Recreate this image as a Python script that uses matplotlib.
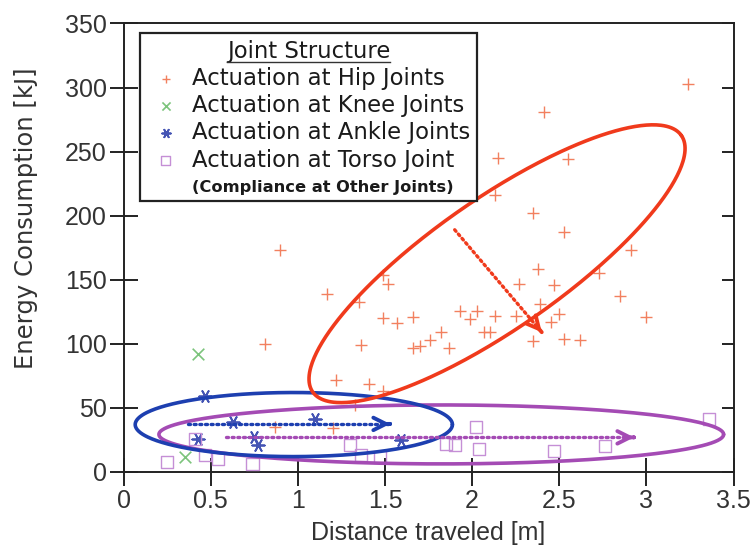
import numpy as np
import matplotlib
matplotlib.use("Agg")
import matplotlib.pyplot as plt
from matplotlib.lines import Line2D

# ---------------- data ----------------
hip_x = [3.24, 2.41, 2.15, 2.55, 2.13, 2.35, 2.53, 2.91, 0.90, 2.38, 2.73, 1.49, 2.27, 2.47,
         1.52, 2.85, 1.17, 1.35, 2.39, 2.03, 1.93, 2.13, 2.25, 2.50, 3.00, 1.66, 1.49, 1.57,
         1.99, 2.45, 1.82, 2.07, 2.10, 1.36, 1.66, 1.70, 1.76, 1.87, 2.35, 2.53, 2.62, 0.81,
         1.22, 1.41, 1.49, 1.33, 0.87, 1.20]
hip_y = [303, 281, 245, 244, 216, 202, 187, 173, 173, 158, 155, 154, 147, 146,
         147, 137, 139, 133, 131, 126, 126, 122, 122, 123, 121, 121, 120, 116,
         119, 117, 109, 109, 109, 99, 97, 98, 103, 97, 102, 104, 103, 100,
         72, 69, 63, 52, 35, 34]

knee_x = [0.43, 0.35]
knee_y = [92, 12]

ankle_x = [0.47, 0.63, 0.43, 0.75, 0.77, 1.10, 1.59]
ankle_y = [59, 39, 26, 27, 21, 41, 25]

torso_x = [0.25, 0.47, 0.54, 0.41, 0.74, 1.30, 1.36, 1.47, 1.85, 1.90, 2.02, 2.04, 2.47, 2.76, 3.36]
torso_y = [8, 13, 10, 26, 6, 21, 13, 12, 22, 21, 35, 18, 16, 20, 41]

labels = ["Actuation at Hip Joints", "Actuation at Knee Joints",
          "Actuation at Ankle Joints", "Actuation at Torso Joint",
          "(Compliance at Other Joints)"]
legend_title = "Joint Structure"

# ellipses: center, semi-axis vectors (data units)
red_ell = dict(c=(2.143, 162.5), u=(1.058, 100.0), v=(0.211, -41.8))
blue_ell = dict(c=(0.977, 37.0), u=(0.91, 0.0), v=(0.0, 25.0))
purple_ell = dict(c=(1.823, 29.3), u=(1.62, 0.0), v=(0.0, 23.0))

# dotted arrows: start, end
red_arrow = ((1.90, 189), (2.40, 109))
blue_arrow = ((0.37, 37.5), (1.53, 37.5))
purple_arrow = ((0.59, 27.0), (2.93, 27.0))

xticks = [0, 0.5, 1, 1.5, 2, 2.5, 3, 3.5]
xticklabels = ["0", "0.5", "1", "1.5", "2", "2.5", "3", "3.5"]
yticks = [0, 50, 100, 150, 200, 250, 300, 350]

# ---------------- style ----------------
c_hip = "#f2805f"
c_knee = "#7cc47c"
c_ankle = "#4454b4"
c_torso = "#c58fd6"
c_red = "#f03a1c"
c_blue = "#1d3fb0"
c_purple = "#a44bb4"

fig = plt.figure(figsize=(7.56, 5.49), dpi=100)
ax = fig.add_axes([0.1634, 0.1403, 0.8069, 0.817])

ax.set_xlim(0, 3.5)
ax.set_ylim(0, 350)

h1 = ax.scatter(hip_x, hip_y, marker="+", s=80, linewidths=1.0, color=c_hip, zorder=3)
h2 = ax.scatter(knee_x, knee_y, marker="x", s=70, linewidths=1.2, color=c_knee, zorder=3)
h3 = ax.scatter(ankle_x, ankle_y, marker=(6, 2, 90), s=80, linewidths=1.3, color=c_ankle, zorder=3)
h4 = ax.scatter(torso_x, torso_y, marker="s", s=75, facecolors="none", edgecolors=c_torso,
                linewidths=1.0, zorder=3)


def draw_ellipse(e, color, lw):
    t = np.linspace(0, 2 * np.pi, 400)
    cx, cy = e["c"]
    ux, uy = e["u"]
    vx, vy = e["v"]
    xs = cx + ux * np.cos(t) + vx * np.sin(t)
    ys = cy + uy * np.cos(t) + vy * np.sin(t)
    ax.plot(xs, ys, color=color, lw=lw, zorder=4, solid_capstyle="round")


def draw_arrow(a, color):
    (x0, y0), (x1, y1) = a
    ax.plot([x0, x1], [y0, y1], color=color, lw=2.4, linestyle=(0, (0.6, 1.1)),
            dash_capstyle="round", zorder=5)
    dx, dy = x1 - x0, y1 - y0
    ax.annotate("", xy=(x1, y1), xytext=(x1 - dx * 0.001, y1 - dy * 0.001),
                arrowprops=dict(arrowstyle="->,head_length=0.9,head_width=0.45",
                                color=color, lw=2.8, shrinkA=0, shrinkB=0), zorder=5)


draw_ellipse(purple_ell, c_purple, 2.6)
draw_ellipse(blue_ell, c_blue, 2.6)
draw_ellipse(red_ell, c_red, 2.6)
draw_arrow(red_arrow, c_red)
draw_arrow(blue_arrow, c_blue)
draw_arrow(purple_arrow, c_purple)

ax.set_xticks(xticks)
ax.set_xticklabels(xticklabels)
ax.set_yticks(yticks)
tick_font = "Liberation Sans"
ax.tick_params(direction="inout", length=20, width=1.4, color="#222222",
               labelsize=18, labelcolor="#333333", pad=2)
for lab in ax.get_xticklabels() + ax.get_yticklabels():
    lab.set_fontfamily(tick_font)
sec = ax.secondary_yaxis("right")
sec.set_yticks(yticks)
sec.tick_params(direction="in", length=9, width=1.4, color="#222222", labelright=False)
sec.spines["right"].set_visible(False)
for s in ax.spines.values():
    s.set_linewidth(1.4)
    s.set_color("#222222")

ax.set_xlabel("Distance traveled [m]", fontsize=18, color="#333333", labelpad=6,
              fontfamily="Liberation Sans")
ax.set_ylabel("Energy Consumption [kJ]", fontsize=17.5, color="#333333",
              fontfamily="DejaVu Sans", va="center")
ax.yaxis.set_label_coords(-0.16, 0.565)

blank = Line2D([], [], linestyle="none", marker=None)
leg = ax.legend([h1, h2, h3, h4, blank], labels, title=legend_title,
                loc="upper left", bbox_to_anchor=(0.027, 0.978), borderaxespad=0,
                fancybox=False, framealpha=1, edgecolor="#222222",
                prop=dict(family="DejaVu Sans", size=16.4),
                title_fontproperties=dict(family="DejaVu Sans", size=16.4),
                handlelength=1.65, handletextpad=0.35, labelspacing=0.18,
                borderpad=0.3, markerscale=0.7)
leg.get_frame().set_linewidth(1.6)
leg.get_texts()[4].set_fontsize(11.7)
leg.get_texts()[4].set_fontweight("bold")
leg.set_zorder(6)
for t in leg.get_texts():
    t.set_color("#1a1a1a")
leg.get_title().set_color("#1a1a1a")

fig.canvas.draw()
bb = leg.get_title().get_window_extent()
fig.add_artist(Line2D([bb.x0 / fig.bbox.width, bb.x1 / fig.bbox.width],
                      [(bb.y0 + 1) / fig.bbox.height] * 2,
                      color="#333333", lw=1.0, zorder=10))

fig.savefig("out.png", dpi=100)
